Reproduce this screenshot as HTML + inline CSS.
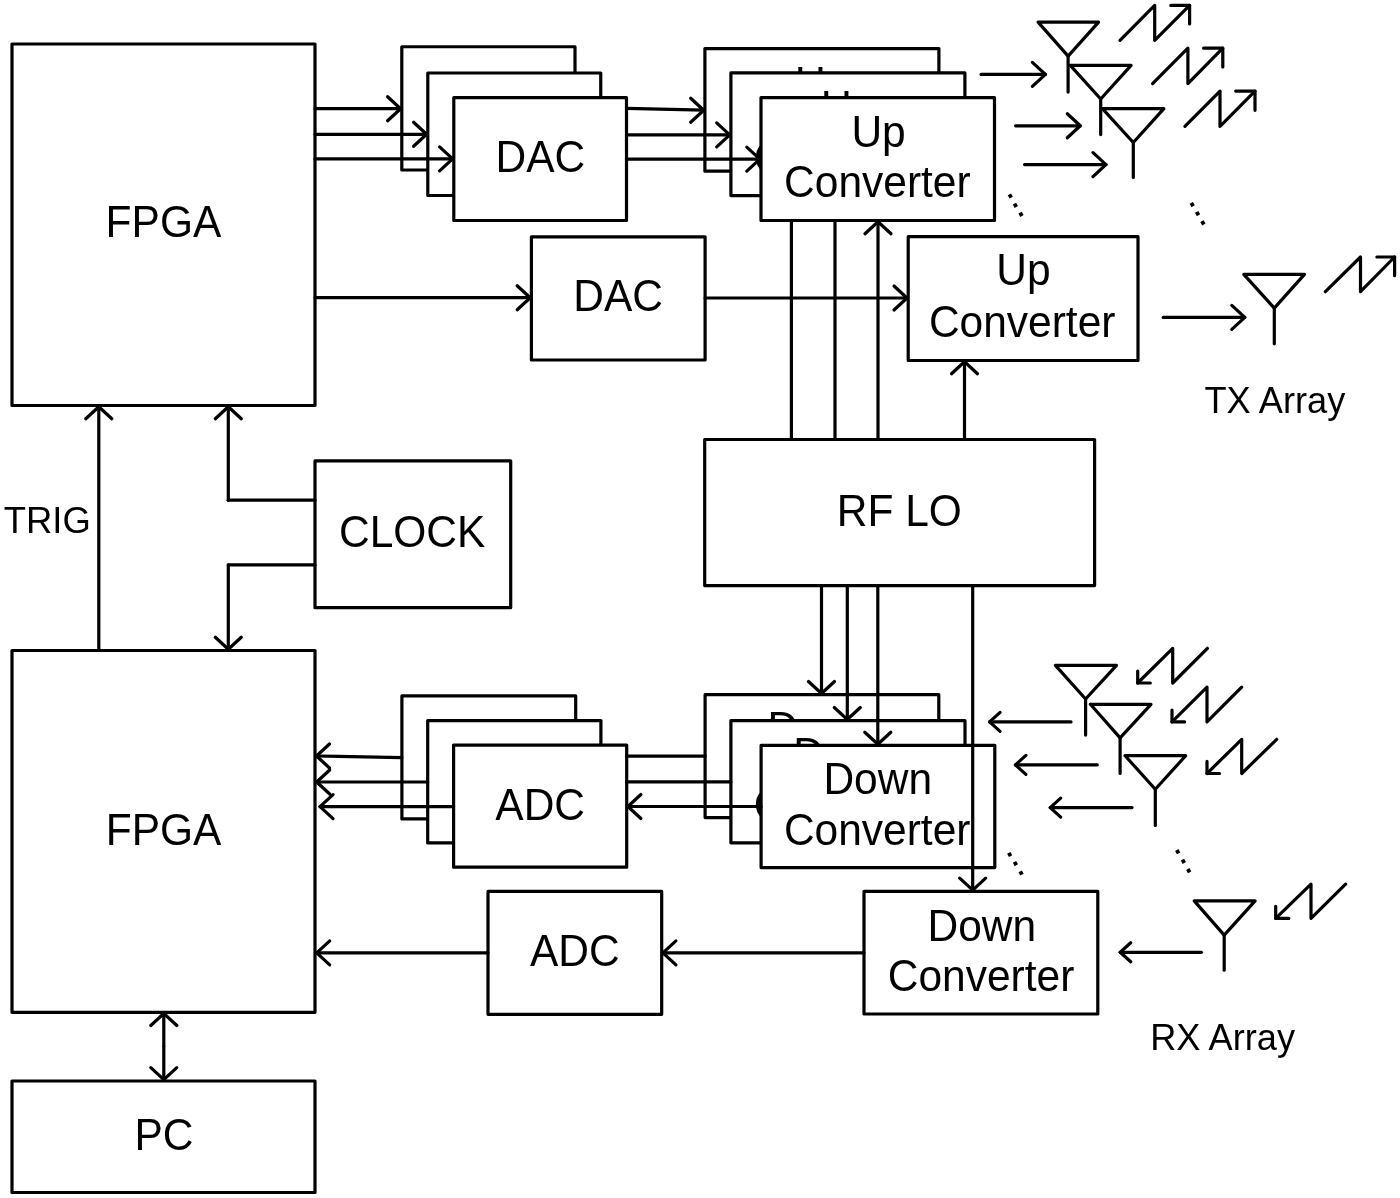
<!DOCTYPE html>
<html><head><meta charset="utf-8"><style>
html,body{margin:0;padding:0;background:#fff;width:1400px;height:1198px;overflow:hidden}
svg{display:block;will-change:transform}
text{font-family:"Liberation Sans",sans-serif;fill:#000;stroke:none}
</style></head><body>
<svg width="1400" height="1198" viewBox="0 0 1400 1198">
<g fill="none" stroke="#000" stroke-width="3.2" stroke-linecap="round" stroke-linejoin="round">
<rect x="12" y="44" width="303.00" height="361.50" fill="#fff" stroke="none"/>
<path d="M12,44H315V405.5H12Z"/>
<text transform="translate(105.60,237.30) scale(1,1.05)" font-size="42.5">FPGA</text>
<rect x="12" y="650.5" width="303.00" height="361.80" fill="#fff" stroke="none"/>
<path d="M12,650.5H315V1012.3H12Z"/>
<text transform="translate(105.70,845.20) scale(1,1.05)" font-size="42.5">FPGA</text>
<rect x="12" y="1081" width="303.00" height="111.50" fill="#fff" stroke="none"/>
<path d="M12,1081H315V1192.5H12Z"/>
<text transform="translate(134.50,1149.90) scale(1,1.05)" font-size="42.5">PC</text>
<rect x="315" y="460.8" width="195.70" height="146.90" fill="#fff" stroke="none"/>
<path d="M315,460.8H510.7V607.7H315Z"/>
<text transform="translate(339.00,547.50) scale(1,1.05)" font-size="42.5">CLOCK</text>
<text transform="translate(3.70,533.10) scale(1,1.025)" font-size="36.5">TRIG</text>
<rect x="401.8" y="46.75" width="173.20" height="123.25" fill="#fff" stroke="none"/>
<path d="M401.8,46.75H575V170H401.8Z"/>
<rect x="427.8" y="73" width="172.95" height="122.50" fill="#fff" stroke="none"/>
<path d="M427.8,73H600.75V195.5H427.8Z"/>
<rect x="453.8" y="97.7" width="172.70" height="122.80" fill="#fff" stroke="none"/>
<path d="M453.8,97.7H626.5V220.5H453.8Z"/>
<text transform="translate(495.60,172.00) scale(1,1.05)" font-size="42.5">DAC</text>
<rect x="531.4" y="236.8" width="173.70" height="123.20" fill="#fff" stroke="none"/>
<path d="M531.4,236.8H705.1V360H531.4Z"/>
<text transform="translate(573.30,310.70) scale(1,1.05)" font-size="42.5">DAC</text>
<rect x="704.9" y="48.6" width="234.00" height="122.60" fill="#fff" stroke="none"/>
<path d="M704.9,48.6H938.9V171.2H704.9Z"/>
<text transform="translate(795.10,97.70) scale(1,1.05)" font-size="42.5">Up</text>
<text transform="translate(727.80,148.30) scale(1,1.05)" font-size="42.5">Converter</text>
<rect x="730.9" y="72.9" width="234.00" height="122.70" fill="#fff" stroke="none"/>
<path d="M730.9,72.9H964.9V195.6H730.9Z"/>
<text transform="translate(821.10,122.10) scale(1,1.05)" font-size="42.5">Up</text>
<text transform="translate(753.80,172.70) scale(1,1.05)" font-size="42.5">Converter</text>
<rect x="761" y="97.7" width="233.50" height="122.80" fill="#fff" stroke="none"/>
<path d="M761,97.7H994.5V220.5H761Z"/>
<text transform="translate(851.40,146.50) scale(1,1.05)" font-size="42.5">Up</text>
<text transform="translate(784.10,197.10) scale(1,1.05)" font-size="42.5">Converter</text>
<rect x="908.2" y="236.7" width="229.80" height="123.80" fill="#fff" stroke="none"/>
<path d="M908.2,236.7H1138V360.5H908.2Z"/>
<text transform="translate(996.30,285.40) scale(1,1.05)" font-size="42.5">Up</text>
<text transform="translate(928.90,336.50) scale(1,1.05)" font-size="42.5">Converter</text>
<rect x="704.7" y="439.5" width="389.90" height="146.10" fill="#fff" stroke="none"/>
<path d="M704.7,439.5H1094.6V585.6H704.7Z"/>
<text transform="translate(836.70,525.90) scale(1,1.05)" font-size="42.5">RF LO</text>
<rect x="401.9" y="695.9" width="173.80" height="123.00" fill="#fff" stroke="none"/>
<path d="M401.9,695.9H575.7V818.9H401.9Z"/>
<rect x="427.7" y="720.6" width="173.20" height="122.30" fill="#fff" stroke="none"/>
<path d="M427.7,720.6H600.9V842.9H427.7Z"/>
<rect x="453.6" y="745.1" width="173.10" height="122.10" fill="#fff" stroke="none"/>
<path d="M453.6,745.1H626.7V867.2H453.6Z"/>
<text transform="translate(495.30,819.60) scale(1,1.05)" font-size="42.5">ADC</text>
<rect x="488" y="891.4" width="173.70" height="122.90" fill="#fff" stroke="none"/>
<path d="M488,891.4H661.7V1014.3H488Z"/>
<text transform="translate(530.00,966.30) scale(1,1.05)" font-size="42.5">ADC</text>
<rect x="705.1" y="694.7" width="233.70" height="122.90" fill="#fff" stroke="none"/>
<path d="M705.1,694.7H938.8V817.6H705.1Z"/>
<text transform="translate(767.40,743.10) scale(1,1.05)" font-size="42.5">Down</text>
<text transform="translate(727.90,794.10) scale(1,1.05)" font-size="42.5">Converter</text>
<rect x="730.9" y="720.7" width="234.10" height="122.10" fill="#fff" stroke="none"/>
<path d="M730.9,720.7H965V842.8H730.9Z"/>
<text transform="translate(793.20,769.10) scale(1,1.05)" font-size="42.5">Down</text>
<text transform="translate(753.70,820.10) scale(1,1.05)" font-size="42.5">Converter</text>
<rect x="761.1" y="745.4" width="233.70" height="122.20" fill="#fff" stroke="none"/>
<path d="M761.1,745.4H994.8V867.6H761.1Z"/>
<text transform="translate(823.40,793.80) scale(1,1.05)" font-size="42.5">Down</text>
<text transform="translate(783.90,844.80) scale(1,1.05)" font-size="42.5">Converter</text>
<rect x="864" y="891.3" width="233.80" height="122.70" fill="#fff" stroke="none"/>
<path d="M864,891.3H1097.8V1014H864Z"/>
<text transform="translate(927.50,941.00) scale(1,1.05)" font-size="42.5">Down</text>
<text transform="translate(887.80,990.70) scale(1,1.05)" font-size="42.5">Converter</text>
<path d="M315,108.7 L400.6,108.7"/>
<path d="M387.6,96.7 L400.6,108.7 L387.6,120.7"/>
<path d="M315,134.3 L426.6,134.3"/>
<path d="M413.6,122.30000000000001 L426.6,134.3 L413.6,146.3"/>
<path d="M315,158.9 L452.6,158.9"/>
<path d="M439.6,146.9 L452.6,158.9 L439.6,170.9"/>
<path d="M626.5,108.4 L703.7,110.2"/>
<path d="M690.7,98.2 L703.7,110.2 L690.7,122.2"/>
<path d="M626.5,134.9 L729.6999999999999,134.9"/>
<path d="M716.6999999999999,122.9 L729.6999999999999,134.9 L716.6999999999999,146.9"/>
<path d="M626.5,159.1 L759.8,159.1"/>
<path d="M746.8,147.1 L759.8,159.1 L746.8,171.1"/>
<path d="M315,297.7 L530.1999999999999,297.7"/>
<path d="M517.1999999999999,285.7 L530.1999999999999,297.7 L517.1999999999999,309.7"/>
<path d="M705.1,298 L907.0,298.0"/>
<path d="M894.0,286.0 L907.0,298.0 L894.0,310.0"/>
<path d="M791.4,439.5 L791.4,220.5"/>
<path d="M835,439.5 L835,220.5"/>
<path d="M878,439.5 L878.0,221.7"/>
<path d="M865.0,233.7 L878.0,221.7 L891.0,233.7"/>
<path d="M964.5,439.5 L964.5,361.7"/>
<path d="M951.5,373.7 L964.5,361.7 L977.5,373.7"/>
<path d="M821.5,585.6 L821.5,693.5"/>
<path d="M808.5,681.5 L821.5,693.5 L834.5,681.5"/>
<path d="M847.3,585.6 L847.3,719.5"/>
<path d="M834.3,707.5 L847.3,719.5 L860.3,707.5"/>
<path d="M877.8,585.6 L877.8,744.1999999999999"/>
<path d="M864.8,732.1999999999999 L877.8,744.1999999999999 L890.8,732.1999999999999"/>
<path d="M972.7,585.6 L972.7,890.0999999999999"/>
<path d="M959.7,878.0999999999999 L972.7,890.0999999999999 L985.7,878.0999999999999"/>
<path d="M315,500.2 L228.3,500.2"/>
<path d="M228.3,500.2 L228.3,406.7"/>
<path d="M215.3,418.7 L228.3,406.7 L241.3,418.7"/>
<path d="M315,564.9 L228.3,564.9"/>
<path d="M228.3,564.9 L228.3,649.3"/>
<path d="M215.3,637.3 L228.3,649.3 L241.3,637.3"/>
<path d="M98.8,650.5 L98.8,406.7"/>
<path d="M85.8,418.7 L98.8,406.7 L111.8,418.7"/>
<path d="M163.8,1046 L163.8,1013.5"/>
<path d="M150.8,1025.5 L163.8,1013.5 L176.8,1025.5"/>
<path d="M163.8,1046 L163.8,1079.6"/>
<path d="M150.8,1067.6 L163.8,1079.6 L176.8,1067.6"/>
<path d="M401.9,757.7 L316.5,756"/>
<path d="M329.5,744 L316.5,756 L329.5,768"/>
<path d="M427.7,782 L316.7,782.0"/>
<path d="M329.7,770.0 L316.7,782.0 L329.7,794.0"/>
<path d="M453.6,806.6 L320,806.6"/>
<path d="M333,794.6 L320,806.6 L333,818.6"/>
<path d="M626.7,756.1 L705.1,756.1"/>
<path d="M626.7,781.9 L730.9,781.9"/>
<path d="M761.1,806.5 L627.9000000000001,806.5"/>
<path d="M640.9000000000001,794.5 L627.9000000000001,806.5 L640.9000000000001,818.5"/>
<path d="M488,952.9 L316.7,952.9"/>
<path d="M329.7,940.9 L316.7,952.9 L329.7,964.9"/>
<path d="M864,952.9 L662.9000000000001,952.9"/>
<path d="M675.9000000000001,940.9 L662.9000000000001,952.9 L675.9000000000001,964.9"/>
<path d="M981.1,74.4 L1045.4,74.4"/>
<path d="M1032.4,62.400000000000006 L1045.4,74.4 L1032.4,86.4"/>
<path d="M1015.6,125.8 L1080.3,125.8"/>
<path d="M1067.3,113.8 L1080.3,125.8 L1067.3,137.8"/>
<path d="M1024.6,164.6 L1106,164.6"/>
<path d="M1093,152.6 L1106,164.6 L1093,176.6"/>
<path d="M1038.1,22.1 L1098.6,22.1 L1068.1,56.1 L1038.1,22.1"/>
<path d="M1068.1,56.1 L1068.1,92.1"/>
<path d="M1070.3,65.4 L1131.1,65.4 L1100.7,99 L1070.3,65.4"/>
<path d="M1100.7,99 L1100.7,134.6"/>
<path d="M1102.4,108.6 L1163.9,108.6 L1133.3,142.5 L1102.4,108.6"/>
<path d="M1133.3,142.5 L1133.3,177.4"/>
<path d="M1120,40.3 L1154.7,5.4 L1154.7,40.3 L1189.6,5.4"/>
<path d="M1170.8,5.4 L1189.6,5.4 L1189.6,24"/>
<path d="M1152.6,83.6 L1187.9,48.2 L1187.9,83.6 L1222.8,48.2"/>
<path d="M1203.6,48.2 L1222.8,48.2 L1222.8,67"/>
<path d="M1184.9,126.4 L1220,91.1 L1220,126.4 L1255,91.1"/>
<path d="M1235.7,91.1 L1255,91.1 L1255,110.3"/>
<rect x="-1.9" y="-1.9" width="3.8" height="3.8" transform="translate(1010.3,196) rotate(61)" fill="#000" stroke="none"/>
<rect x="-1.9" y="-1.9" width="3.8" height="3.8" transform="translate(1015.4,205.3) rotate(61)" fill="#000" stroke="none"/>
<rect x="-1.9" y="-1.9" width="3.8" height="3.8" transform="translate(1021,214.3) rotate(61)" fill="#000" stroke="none"/>
<rect x="-1.9" y="-1.9" width="3.8" height="3.8" transform="translate(1192.2,204.6) rotate(61)" fill="#000" stroke="none"/>
<rect x="-1.9" y="-1.9" width="3.8" height="3.8" transform="translate(1197.6,213.6) rotate(61)" fill="#000" stroke="none"/>
<rect x="-1.9" y="-1.9" width="3.8" height="3.8" transform="translate(1202.9,222.8) rotate(61)" fill="#000" stroke="none"/>
<path d="M1163.2,317.4 L1244.8,317.4"/>
<path d="M1231.8,305.4 L1244.8,317.4 L1231.8,329.4"/>
<path d="M1243.8,274.4 L1304.5,274.4 L1274.3,308.1 L1243.8,274.4"/>
<path d="M1274.3,308.1 L1274.3,343.8"/>
<path d="M1325.4,291.7 L1360.5,257 L1360.5,291.7 L1394.6,257"/>
<path d="M1376.9,257 L1394.6,257 L1394.6,275.7"/>
<text transform="translate(1204.50,412.70) scale(1,1.02)" font-size="36.2">TX Array</text>
<path d="M1071,721.9 L989.6,721.9"/>
<path d="M1000.1,712.4 L989.6,721.9 L1000.1,731.4"/>
<path d="M1097.3,764.9 L1015.4,764.9"/>
<path d="M1025.9,755.4 L1015.4,764.9 L1025.9,774.4"/>
<path d="M1132,807.6 L1050.2,807.6"/>
<path d="M1060.7,798.1 L1050.2,807.6 L1060.7,817.1"/>
<path d="M1055.4,665.4 L1116.5,665.4 L1085.6,699 L1055.4,665.4"/>
<path d="M1085.6,699 L1085.6,735.1"/>
<path d="M1090.4,704.3 L1151,704.3 L1120.1,737.9 L1090.4,704.3"/>
<path d="M1120.1,737.9 L1120.1,773.5"/>
<path d="M1125.1,755.7 L1185.7,755.7 L1155.3,789.3 L1125.1,755.7"/>
<path d="M1155.3,789.3 L1155.3,825.4"/>
<path d="M1207.4,648.3 L1172.7,683 L1172.7,648.3 L1137.7,683"/>
<path d="M1137.7,671.1 L1137.7,683 L1150.3,683"/>
<path d="M1241.7,687.1 L1207,721.9 L1207,687.1 L1172,721.9"/>
<path d="M1172,710 L1172,721.9 L1184.6,721.9"/>
<path d="M1276.7,739.3 L1241.7,773.5 L1241.7,739.3 L1207,773.5"/>
<path d="M1207,761.4 L1207,773.5 L1219.5,773.5"/>
<rect x="-1.9" y="-1.9" width="3.8" height="3.8" transform="translate(1009.7,854.5) rotate(61)" fill="#000" stroke="none"/>
<rect x="-1.9" y="-1.9" width="3.8" height="3.8" transform="translate(1015.4,863.6) rotate(61)" fill="#000" stroke="none"/>
<rect x="-1.9" y="-1.9" width="3.8" height="3.8" transform="translate(1021.1,873) rotate(61)" fill="#000" stroke="none"/>
<rect x="-1.9" y="-1.9" width="3.8" height="3.8" transform="translate(1177.7,851.7) rotate(61)" fill="#000" stroke="none"/>
<rect x="-1.9" y="-1.9" width="3.8" height="3.8" transform="translate(1183.4,861.3) rotate(61)" fill="#000" stroke="none"/>
<rect x="-1.9" y="-1.9" width="3.8" height="3.8" transform="translate(1188.7,870.7) rotate(61)" fill="#000" stroke="none"/>
<path d="M1201.4,952.3 L1120.2,952.3"/>
<path d="M1130.7,942.8 L1120.2,952.3 L1130.7,961.8"/>
<path d="M1194.2,900.9 L1255.1,900.9 L1224.2,935.1 L1194.2,900.9"/>
<path d="M1224.2,935.1 L1224.2,970.2"/>
<path d="M1345.6,884.2 L1311,918.4 L1311,884.2 L1275.7,918.4"/>
<path d="M1275.7,906.4 L1275.7,918.4 L1288.8,918.4"/>
<text transform="translate(1150.20,1049.50) scale(1,1.02)" font-size="36.2">RX Array</text>
</g></svg></body></html>
